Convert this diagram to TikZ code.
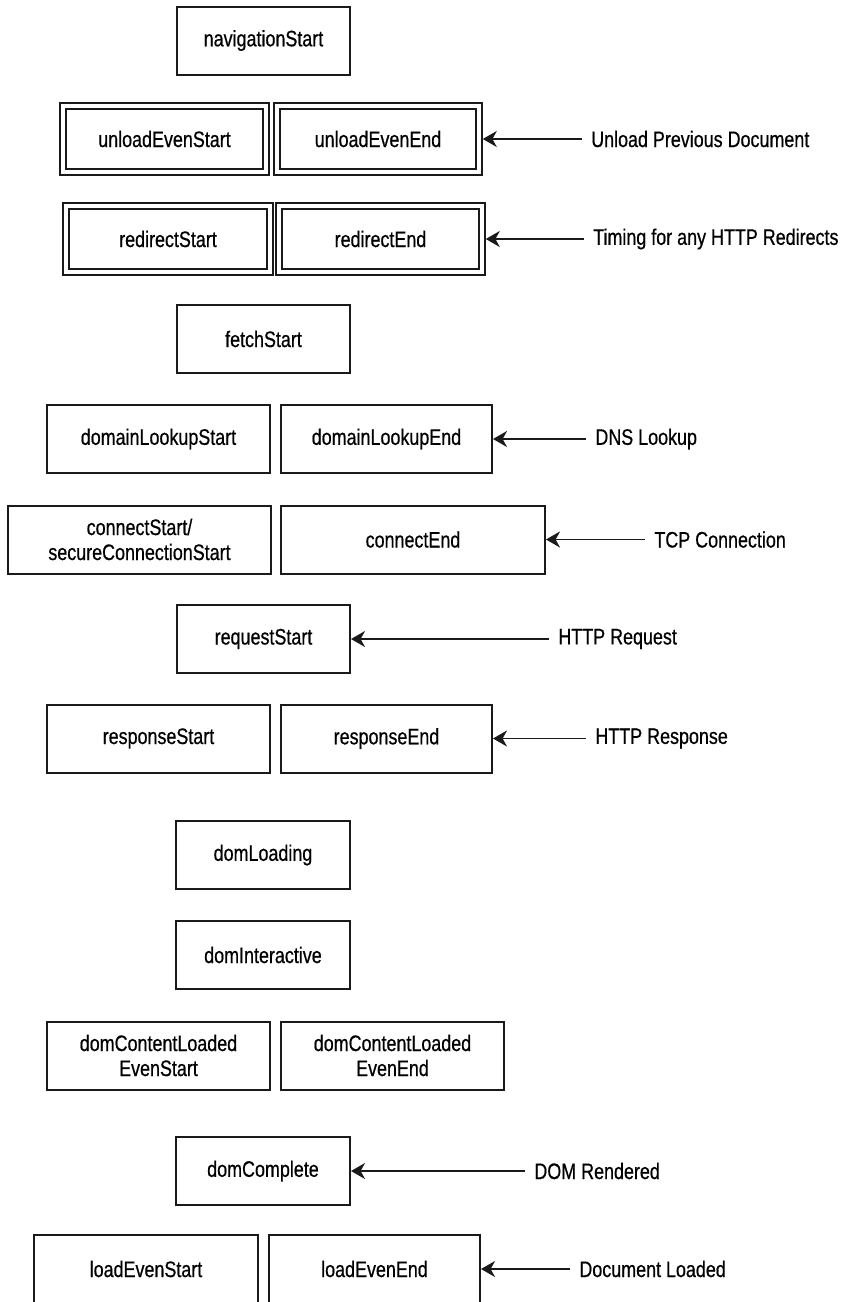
\documentclass[tikz,border=0pt]{standalone}
\usepackage{fontspec}
\setmainfont[FakeStretch=0.80, FakeBold=0.6]{Liberation Sans}
\usepackage{tikz}
\usetikzlibrary{
  arrows.meta,
  positioning,
  calc
}
\definecolor{ntInk}{HTML}{1A1A1A}
\newcommand{\evfont}{\fontsize{11.2}{12.5}\selectfont}
\tikzset{
  evnode/.style={
    draw=ntInk, line width=1pt, minimum height=34pt, align=center,
    inner sep=2pt, font=\evfont
  },
  evbox/.style={evnode, minimum width=#1},
  evdouble/.style={
    evnode, minimum width={#1-3pt}, minimum height=33pt, line width=0.75pt,
    double, double distance=2.25pt, outer sep=1.9pt
  },
  phase/.style={font=\evfont, inner xsep=4.5pt, inner ysep=1pt, anchor=west},
  timing/.style={-{Stealth[length=7pt, width=8pt, inset=2.2pt]}, line width=0.9pt, draw=ntInk}
}

\begin{document}
\begin{tikzpicture}[x=0.5pt, y=-0.5pt]
  \useasboundingbox (0,0) rectangle (842,1302);

  \node[evbox=86.5pt] (navStart) at (263.5,40.5) {navigationStart};
  \node[evdouble=104.5pt] (unloadStart) at (164.5,139) {unloadEvenStart};
  \node[evdouble=104pt] (unloadEnd) at (378,139) {unloadEvenEnd};
  \node[evdouble=105pt] (redirStart) at (168,239) {redirectStart};
  \node[evdouble=104.5pt] (redirEnd) at (380.5,239) {redirectEnd};
  \node[evbox=86.5pt] (fetchStart) at (263.5,339) {fetchStart};
  \node[evbox=111.5pt] (dnsStart) at (158.5,439) {domainLookupStart};
  \node[evbox=105.5pt] (dnsEnd) at (386.5,439) {domainLookupEnd};
  \node[evbox=131.5pt] (tcpStart) at (139.5,539.5) {connectStart/\\secureConnectionStart};
  \node[evbox=132pt] (tcpEnd) at (413,539.5) {connectEnd};
  \node[evbox=86.5pt] (reqStart) at (263.5,639) {requestStart};
  \node[evbox=111.5pt] (respStart) at (158.5,738.5) {responseStart};
  \node[evbox=105.5pt] (respEnd) at (386.5,738.5) {responseEnd};
  \node[evbox=87pt] (domLoading) at (263,855) {domLoading};
  \node[evbox=87pt] (domInter) at (263,955) {domInteractive};
  \node[evbox=111.5pt] (dclStart) at (158.5,1055.5) {domContentLoaded\\EvenStart};
  \node[evbox=111.5pt] (dclEnd) at (392.5,1055.5) {domContentLoaded\\EvenEnd};
  \node[evbox=87pt] (domComplete) at (263,1171) {domComplete};
  \node[evbox=112pt] (loadStart) at (146,1269) {loadEvenStart};
  \node[evbox=105.5pt] (loadEnd) at (374.5,1269) {loadEvenEnd};

  \foreach \ev/\gap/\txt in {
    unloadEnd/49.5/{Unload Previous Document},
    redirEnd/49/{Timing for any HTTP Redirects},
    dnsEnd/46.5/{DNS Lookup},
    tcpEnd/49.5/{TCP Connection},
    reqStart/99/{HTTP Request},
    respEnd/46.5/{HTTP Response},
    domComplete/87/{DOM Rendered},
    loadEnd/44.5/{Document Loaded}}{
    \node[phase] (\ev-tag) at ([xshift=\gap pt]\ev.east) {\txt};
    \draw[timing] (\ev-tag.west) -- (\ev.east);
  }
\end{tikzpicture}
\end{document}
